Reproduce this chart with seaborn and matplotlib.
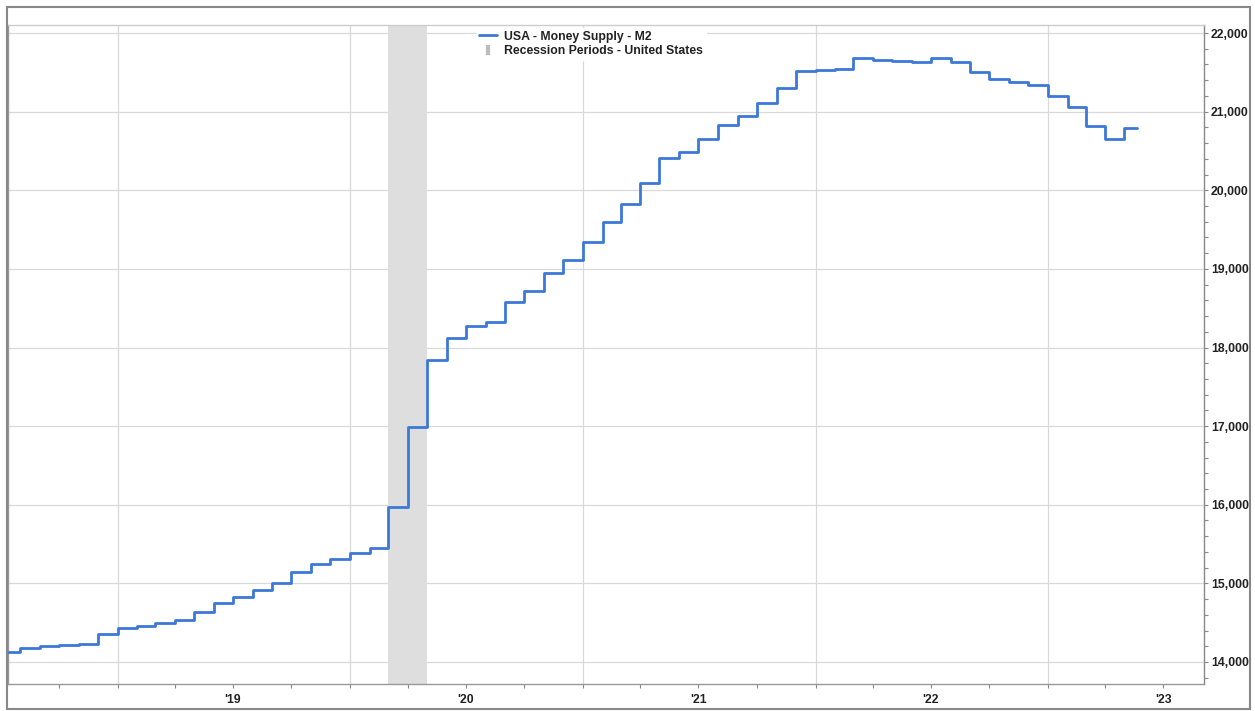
"""
USA M2 money supply with recession shading
"""
import matplotlib
matplotlib.use('Agg')
import matplotlib.pyplot as plt
import matplotlib.dates as mdates
from matplotlib.ticker import MultipleLocator, FuncFormatter, NullFormatter
from matplotlib.lines import Line2D
from matplotlib.patches import Rectangle
import seaborn as sns
import pandas as pd

# monthly M2 levels (billions USD), Jul 2018 .. May 2023
months = pd.date_range('2018-07-01', '2023-05-01', freq='MS')
m2_2018 = [14131, 14174, 14203, 14215, 14228, 14355]
m2_2019 = [14435, 14461, 14499, 14533, 14638, 14753, 14829, 14910, 15003, 15142, 15240, 15311]
m2_2020 = [15392, 15447, 15971, 16990, 17845, 18124, 18277, 18327, 18581, 18720, 18949, 19114]
m2_2021 = [19343, 19596, 19825, 20091, 20409, 20485, 20650, 20827, 20942, 21107, 21297, 21513]
m2_2022 = [21527, 21545, 21680, 21655, 21645, 21635, 21680, 21632, 21506, 21417, 21375, 21337]
m2_2023 = [21193, 21062, 20813, 20656, 20788]
series_end = '2023-05-21'

recession_start = '2020-03-01'
recession_end = '2020-05-01'

x_start = '2018-07-13'
x_end = '2023-09-03'
y_min, y_max = 13720, 22102

values = m2_2018 + m2_2019 + m2_2020 + m2_2021 + m2_2022 + m2_2023
df = pd.DataFrame({'date': months, 'm2': values})
df = pd.concat([df, pd.DataFrame({'date': [pd.Timestamp(series_end)], 'm2': [values[-1]]})],
               ignore_index=True)

sns.set_style('white')
plt.rcParams['font.family'] = ['Liberation Sans', 'DejaVu Sans']

line_color = '#3c78d8'
text_color = '#222222'
grid_color = '#d9d9d9'
font_size = 8.8

fig = plt.figure(figsize=(12.55, 7.11), dpi=100)
ax = fig.add_axes([8 / 1255, 1 - 684 / 711, 1196 / 1255, 659 / 711])

ax.axvspan(pd.Timestamp(recession_start), pd.Timestamp(recession_end),
           color='#dedede', zorder=1, lw=0)
sns.lineplot(data=df, x='date', y='m2', ax=ax, color=line_color, linewidth=2.0,
             drawstyle='steps-post', zorder=3)

ax.set_xlim(pd.Timestamp(x_start), pd.Timestamp(x_end))
ax.set_ylim(y_min, y_max)
ax.set_xlabel('')
ax.set_ylabel('')

# x axis: gridlines at year start, labels mid-year, quarterly ticks
ax.xaxis.set_major_locator(mdates.YearLocator())
ax.xaxis.set_major_formatter(NullFormatter())
ax.xaxis.set_minor_locator(mdates.MonthLocator(bymonth=[4, 7, 10]))


def year_label(x, pos):
    d = mdates.num2date(x)
    return "'" + d.strftime('%y') if d.month == 7 else ''


ax.xaxis.set_minor_formatter(FuncFormatter(year_label))

# y axis on the right
ax.yaxis.tick_right()
ax.yaxis.set_major_locator(MultipleLocator(1000))
ax.yaxis.set_minor_locator(MultipleLocator(200))
ax.yaxis.set_major_formatter(FuncFormatter(lambda v, p: f'{v:,.0f}'))

ax.tick_params(axis='both', which='both', direction='out', length=3, width=0.8,
               color='#888888', labelcolor=text_color)
ax.tick_params(axis='y', which='both', right=True, left=False, labelsize=font_size, pad=2)
ax.tick_params(axis='x', which='both', bottom=True, labelsize=font_size, pad=4)
for lbl in ax.get_yticklabels() + ax.get_xticklabels(minor=True):
    lbl.set_fontweight('bold')

ax.grid(True, which='major', axis='both', color=grid_color, linewidth=0.9)
ax.set_axisbelow(True)

for side in ['left', 'bottom']:
    ax.spines[side].set_color('#999999')
ax.spines['top'].set_color('#cccccc')
ax.spines['right'].set_color('#888888')
for sp in ax.spines.values():
    sp.set_linewidth(1.0)

handles = [
    Line2D([0], [0], color=line_color, lw=2.0),
    Line2D([0], [0], color='#bbbbbb', marker='|', markersize=7, markeredgewidth=3,
           linestyle='none'),
]
labels = ['USA - Money Supply - M2', 'Recession Periods - United States']
leg = ax.legend(handles, labels, loc='upper left', bbox_to_anchor=(0.392, 0.995),
                frameon=True, facecolor='white', edgecolor='white', framealpha=1,
                fancybox=False, borderpad=0.2, borderaxespad=0, labelspacing=0.22,
                handlelength=1.45, handletextpad=0.6,
                prop={'size': font_size, 'weight': 'bold'})
for t in leg.get_texts():
    t.set_color(text_color)

# outer frame
fig.patches.append(Rectangle((7 / 1255, 2 / 711), 1243 / 1255, 702 / 711,
                             transform=fig.transFigure, fill=False,
                             edgecolor='#888888', linewidth=1.5))

fig.savefig('out.png', dpi=100)
plt.close(fig)
